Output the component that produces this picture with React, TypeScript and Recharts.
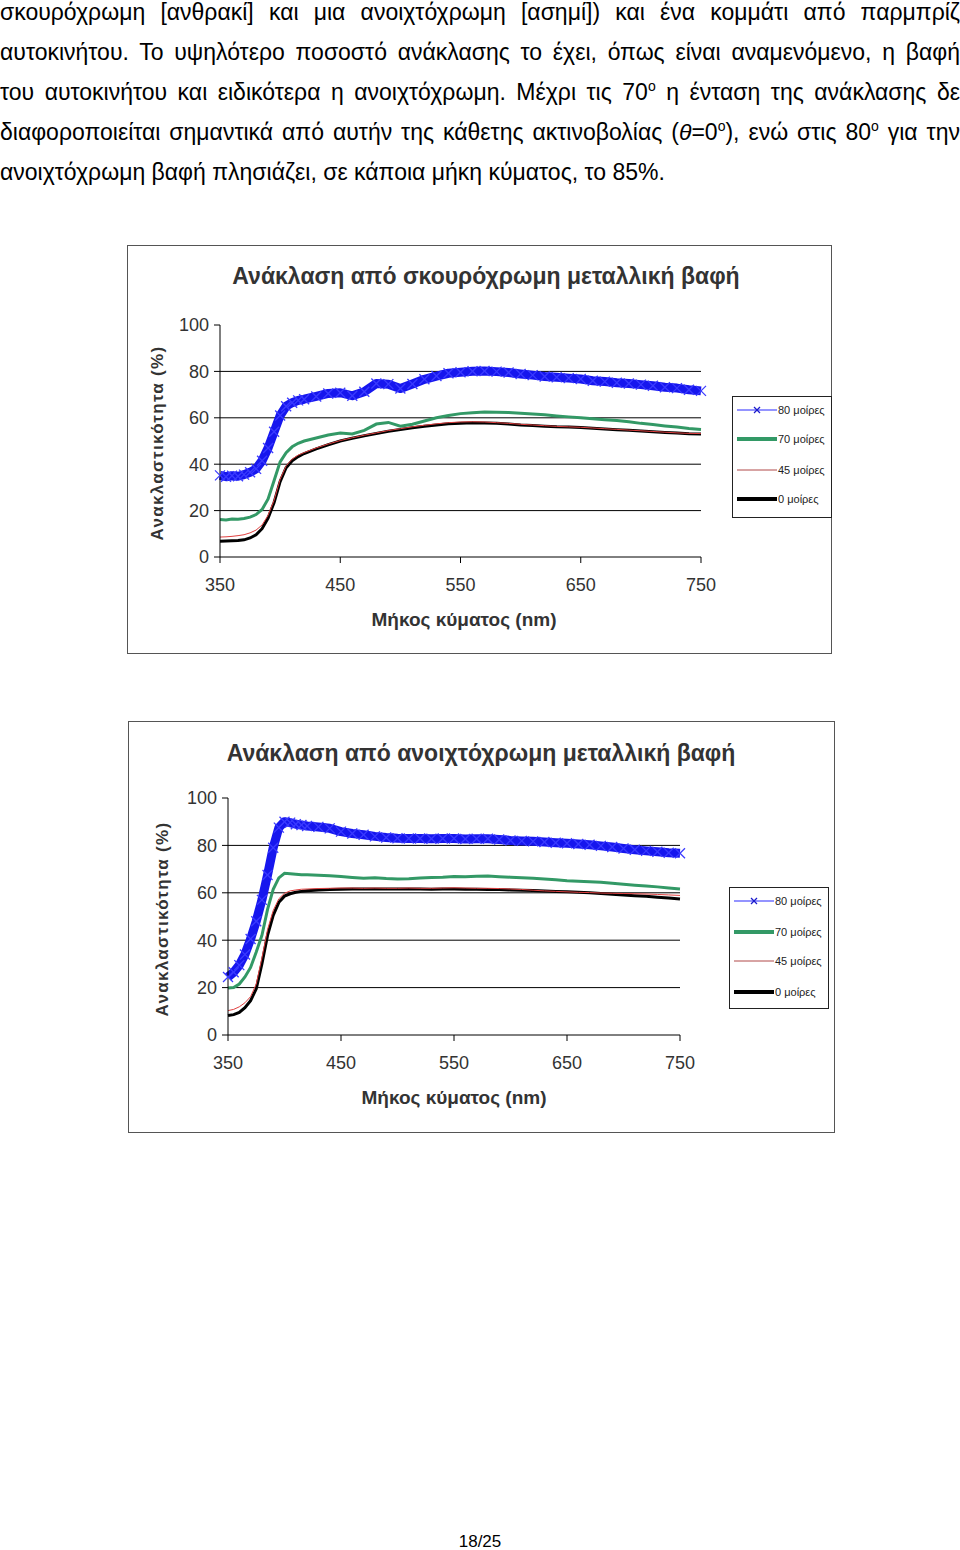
import React from 'react';
import { LineChart, Line, XAxis, YAxis, CartesianGrid } from 'recharts';

// wavelength grid (nm), finer steps on the steep rise
const wavelengths = [
  350, 355, 360, 365, 370, 375, 380, 385, 390, 395, 400, 405, 410, 415, 420,
  430, 440, 450, 460, 470, 480, 490, 500, 510, 520, 530, 540, 550, 560, 570,
  580, 590, 600, 610, 620, 630, 640, 650, 660, 670, 680, 690, 700, 710, 720,
  730, 740, 750,
];

// dark (anthracite) paint
const dark80 = [
  35.2, 34.6, 35.0, 34.8, 35.5, 36.5, 38.0, 41.5, 47.0, 54.0, 61.0, 65.0, 66.5, 67.5, 68.0,
  69.2, 70.5, 70.8, 69.5, 71.2, 74.8, 74.5, 72.6, 74.6, 76.6, 78.0, 79.2, 79.6, 80.1, 80.2,
  79.9, 79.5, 78.9, 78.4, 77.8, 77.5, 77.1, 76.7, 76.0, 75.6, 75.1, 74.8, 74.3, 73.8, 73.2,
  72.8, 72.1, 71.6,
];
const dark70 = [
  16.2, 16.0, 16.4, 16.3, 16.6, 17.2, 18.3, 20.5, 25.0, 33.0, 41.0, 45.0, 47.5, 49.0, 50.0,
  51.3, 52.6, 53.4, 53.0, 54.6, 57.3, 58.0, 56.4, 57.2, 58.6, 60.0, 61.0, 61.8, 62.2, 62.5,
  62.4, 62.3, 62.0, 61.6, 61.3, 60.8, 60.4, 60.0, 59.6, 59.2, 58.8, 58.3, 57.6, 57.1, 56.5,
  56.0, 55.4, 55.0,
];
const dark45 = [
  8.6, 8.7, 8.9, 9.2, 9.6, 10.4, 11.6, 13.8, 18.0, 24.5, 33.5, 39.3, 42.2, 43.9, 45.0,
  47.0, 48.7, 50.2, 51.4, 52.5, 53.5, 54.5, 55.3, 56.1, 56.8, 57.4, 57.9, 58.2, 58.3, 58.2,
  57.9, 57.6, 57.2, 56.9, 56.6, 56.3, 56.1, 55.9, 55.6, 55.3, 55.0, 54.7, 54.4, 54.1, 53.8,
  53.5, 53.3, 53.2,
];
const dark0 = [
  6.8, 6.9, 7.0, 7.1, 7.4, 8.2, 9.6, 12.2, 16.8, 23.5, 32.5, 38.5, 41.5, 43.3, 44.6,
  46.6, 48.4, 50.0, 51.2, 52.3, 53.2, 54.2, 55.0, 55.7, 56.4, 56.9, 57.4, 57.7, 57.9, 57.8,
  57.6, 57.3, 56.9, 56.7, 56.4, 56.1, 56.0, 55.8, 55.5, 55.2, 54.9, 54.6, 54.3, 54.0, 53.7,
  53.4, 53.1, 53.0,
];

// light (silver) paint
const light80 = [
  24.5, 26.5, 29.5, 34.0, 40.5, 48.0, 57.0, 67.5, 79.0, 87.5, 90.0, 89.6, 88.9, 88.6, 88.2,
  87.8, 87.2, 85.8, 85.0, 84.5, 83.8, 83.3, 83.0, 82.9, 82.9, 82.8, 82.9, 82.9, 82.7, 82.8,
  82.8, 82.5, 82.1, 81.9, 81.7, 81.4, 81.1, 80.9, 80.6, 80.3, 79.8, 79.3, 78.7, 78.2, 77.7,
  77.3, 76.9, 76.7,
];
const light70 = [
  19.8, 20.0, 21.5, 24.5, 28.5, 35.0, 42.0, 53.0, 61.5, 66.3, 68.2, 68.0, 67.8, 67.6, 67.6,
  67.4, 67.2, 66.9, 66.5, 66.1, 66.4, 66.0, 65.8, 65.9, 66.2, 66.5, 66.6, 66.9, 66.8, 67.0,
  67.1, 66.8, 66.6, 66.3, 66.1, 65.8, 65.5, 65.1, 64.9, 64.7, 64.5, 64.0, 63.6, 63.2, 62.9,
  62.5, 62.0, 61.6,
];
const light45 = [
  10.3, 10.8, 11.9, 13.6, 16.2, 21.5, 32.5, 44.5, 52.5, 57.5, 59.8, 60.8, 61.2, 61.5, 61.6,
  61.8, 61.9, 62.0, 62.0, 61.9, 62.0, 61.9, 61.9, 62.0, 61.9, 61.9, 62.0, 62.1, 62.0, 61.9,
  61.9, 61.8, 61.6, 61.4, 61.1, 60.8, 60.6, 60.4, 60.2, 60.1, 59.9, 59.8, 59.7, 59.6, 59.5,
  59.3, 59.1, 58.9,
];
const light0 = [
  8.2, 8.6, 9.5, 11.5, 14.5, 19.5, 30.0, 42.0, 50.5, 56.0, 58.6, 59.6, 60.2, 60.6, 60.9,
  61.2, 61.4, 61.5, 61.6, 61.6, 61.6, 61.6, 61.6, 61.6, 61.6, 61.5, 61.6, 61.6, 61.5, 61.5,
  61.4, 61.4, 61.2, 61.1, 61.0, 60.8, 60.6, 60.4, 60.2, 60.0, 59.7, 59.4, 59.1, 58.8, 58.5,
  58.1, 57.8, 57.4,
];

const xTicks = [350, 450, 550, 650, 750];
const yTicks = [0, 20, 40, 60, 80, 100];
const gridValues = [20, 40, 60, 80];
const legendLabels = ['80 μοίρες', '70 μοίρες', '45 μοίρες', '0 μοίρες'];

const FONT = '"Liberation Sans", Arial, sans-serif';
const BLUE = '#1616ee';
const GREEN = '#339966';
const RED = '#e04040';

const buildRows = (s80: number[], s70: number[], s45: number[], s0: number[]) =>
  wavelengths.map((wl, i) => ({ wl, d80: s80[i], d70: s70[i], d45: s45[i], d0: s0[i] }));

const CrossDot = ({ cx, cy, size = 4, color = '#3a3aff' }: any) => {
  if (cx == null || cy == null) return null;
  return (
    <g>
      <line x1={cx - size} y1={cy - size} x2={cx + size} y2={cy + size} stroke={color} strokeWidth={1.3} />
      <line x1={cx - size} y1={cy + size} x2={cx + size} y2={cy - size} stroke={color} strokeWidth={1.3} />
    </g>
  );
};

const LegendBox = ({ left, top, rowTops }: { left: number; top: number; rowTops: number[] }) => (
  <div
    style={{
      position: 'absolute', left, top, width: 100, height: 122, boxSizing: 'border-box',
      border: '1px solid #222', background: '#fff',
    }}
  >
    {legendLabels.map((label, i) => (
      <div key={label} style={{ position: 'absolute', left: 4, top: rowTops[i] - 7, height: 14, display: 'flex', alignItems: 'center' }}>
        <svg width={40} height={14}>
          {i === 0 && (
            <>
              <line x1={0} y1={7} x2={40} y2={7} stroke="#7070ff" strokeWidth={1.5} />
              <CrossDot cx={20} cy={7} size={3} color="#1a1acc" />
            </>
          )}
          {i === 1 && <line x1={0} y1={7} x2={40} y2={7} stroke={GREEN} strokeWidth={4} />}
          {i === 2 && <line x1={0} y1={7} x2={40} y2={7} stroke="#b04848" strokeWidth={1} />}
          {i === 3 && <line x1={0} y1={7} x2={40} y2={7} stroke="#000" strokeWidth={4} />}
        </svg>
        <span style={{ fontFamily: FONT, fontSize: 11, color: '#222', marginLeft: 1, whiteSpace: 'nowrap' }}>{label}</span>
      </div>
    ))}
  </div>
);

type ChartProps = {
  title: string;
  rows: any[];
  left: number;
  top: number;
  width: number;
  height: number;
  yAxisWidth: number;
  margin: { top: number; right: number; bottom: number; left: number };
  titlePos: [number, number];
  xLabelPos: [number, number];
  yLabelPos: [number, number];
  legendPos: [number, number];
  legendRows: number[];
};

const ReflectanceChart = (p: ChartProps) => (
  <div
    style={{
      position: 'absolute', left: p.left, top: p.top, width: p.width, height: p.height,
      boxSizing: 'border-box', border: '1px solid #555', background: '#fff',
    }}
  >
    <div style={{ position: 'absolute', left: -1, top: -1 }}>
      <LineChart width={p.width} height={p.height} data={p.rows} margin={p.margin}>
        <CartesianGrid vertical={false} horizontalValues={gridValues} stroke="#000" strokeWidth={1} />
        <XAxis
          dataKey="wl"
          type="number"
          domain={[350, 750]}
          ticks={xTicks}
          height={30}
          tickSize={6}
          tickMargin={15}
          stroke="#000"
          tick={{ fill: '#333', fontSize: 18, fontFamily: FONT }}
        />
        <YAxis
          type="number"
          domain={[0, 100]}
          ticks={yTicks}
          width={p.yAxisWidth}
          tickSize={6}
          tickMargin={5}
          stroke="#000"
          tick={{ fill: '#333', fontSize: 18, fontFamily: FONT }}
        />
        <Line
          dataKey="d80"
          stroke={BLUE}
          strokeWidth={9}
          strokeLinejoin="round"
          dot={(d: any) => <CrossDot key={`c${d.index}`} cx={d.cx} cy={d.cy} size={5} />}
          isAnimationActive={false}
        />
        <Line dataKey="d70" stroke={GREEN} strokeWidth={3} dot={false} isAnimationActive={false} />
        <Line dataKey="d0" stroke="#000" strokeWidth={3} dot={false} isAnimationActive={false} />
        <Line dataKey="d45" stroke={RED} strokeWidth={1} dot={false} isAnimationActive={false} />
      </LineChart>
    </div>
    <div
      style={{
        position: 'absolute', left: p.titlePos[0], top: p.titlePos[1], transform: 'translate(-50%, -50%)',
        fontFamily: FONT, fontWeight: 'bold', fontSize: 23, color: '#333', whiteSpace: 'nowrap',
      }}
    >
      {p.title}
    </div>
    <div
      style={{
        position: 'absolute', left: p.xLabelPos[0], top: p.xLabelPos[1], transform: 'translate(-50%, -50%)',
        fontFamily: FONT, fontWeight: 'bold', fontSize: 19, color: '#333', whiteSpace: 'nowrap',
      }}
    >
      Μήκος κύματος (nm)
    </div>
    <div
      style={{
        position: 'absolute', left: p.yLabelPos[0], top: p.yLabelPos[1], transform: 'translate(-50%, -50%) rotate(-90deg)',
        fontFamily: FONT, fontWeight: 'bold', fontSize: 17, letterSpacing: 1.3, color: '#333', whiteSpace: 'nowrap',
      }}
    >
      Ανακλαστικότητα (%)
    </div>
    <LegendBox left={p.legendPos[0]} top={p.legendPos[1]} rowTops={p.legendRows} />
  </div>
);

const lineStyle: React.CSSProperties = {
  height: 40, lineHeight: '40px', whiteSpace: 'nowrap', textAlign: 'justify', textAlignLast: 'justify',
};
const sup = (s: string) => <sup style={{ fontSize: 14, lineHeight: 0 }}>{s}</sup>;

export default function App() {
  const darkRows = buildRows(dark80, dark70, dark45, dark0);
  const lightRows = buildRows(light80, light70, light45, light0);
  return (
    <div style={{ position: 'absolute', left: 0, top: 0, width: 960, height: 1550, overflow: 'hidden', background: '#fff' }}>
      <div style={{ position: 'absolute', left: 0, top: -8, width: 960, fontFamily: FONT, fontSize: 23, color: '#000' }}>
        <div style={lineStyle}>σκουρόχρωμη [ανθρακί] και μια ανοιχτόχρωμη [ασημί]) και ένα κομμάτι από παρμπρίζ</div>
        <div style={lineStyle}>αυτοκινήτου. Το υψηλότερο ποσοστό ανάκλασης το έχει, όπως είναι αναμενόμενο, η βαφή</div>
        <div style={lineStyle}>
          του αυτοκινήτου και ειδικότερα η ανοιχτόχρωμη. Μέχρι τις 70{sup('ο')} η ένταση της ανάκλασης δε
        </div>
        <div style={lineStyle}>
          διαφοροποιείται σημαντικά από αυτήν της κάθετης ακτινοβολίας (<i>θ</i>=0{sup('ο')}), ενώ στις 80{sup('ο')} για την
        </div>
        <div style={{ height: 40, lineHeight: '40px', whiteSpace: 'nowrap' }}>
          ανοιχτόχρωμη βαφή πλησιάζει, σε κάποια μήκη κύματος, το 85%.
        </div>
      </div>

      <ReflectanceChart
        title="Ανάκλαση από σκουρόχρωμη μεταλλική βαφή"
        rows={darkRows}
        left={127}
        top={245}
        width={705}
        height={409}
        yAxisWidth={93}
        margin={{ top: 80, right: 131, bottom: 67, left: 0 }}
        titlePos={[358, 30]}
        xLabelPos={[336, 374]}
        yLabelPos={[30, 197]}
        legendPos={[604, 150]}
        legendRows={[13, 42, 73, 102]}
      />

      <ReflectanceChart
        title="Ανάκλαση από ανοιχτόχρωμη μεταλλική βαφή"
        rows={lightRows}
        left={128}
        top={721}
        width={707}
        height={412}
        yAxisWidth={100}
        margin={{ top: 77, right: 155, bottom: 68, left: 0 }}
        titlePos={[352, 31]}
        xLabelPos={[325, 376]}
        yLabelPos={[34, 197]}
        legendPos={[600, 165]}
        legendRows={[13, 44, 73, 104]}
      />

      <div
        style={{
          position: 'absolute', left: 480, top: 1542, transform: 'translate(-50%, -50%)',
          fontFamily: FONT, fontSize: 17, color: '#000',
        }}
      >
        18/25
      </div>
    </div>
  );
}
